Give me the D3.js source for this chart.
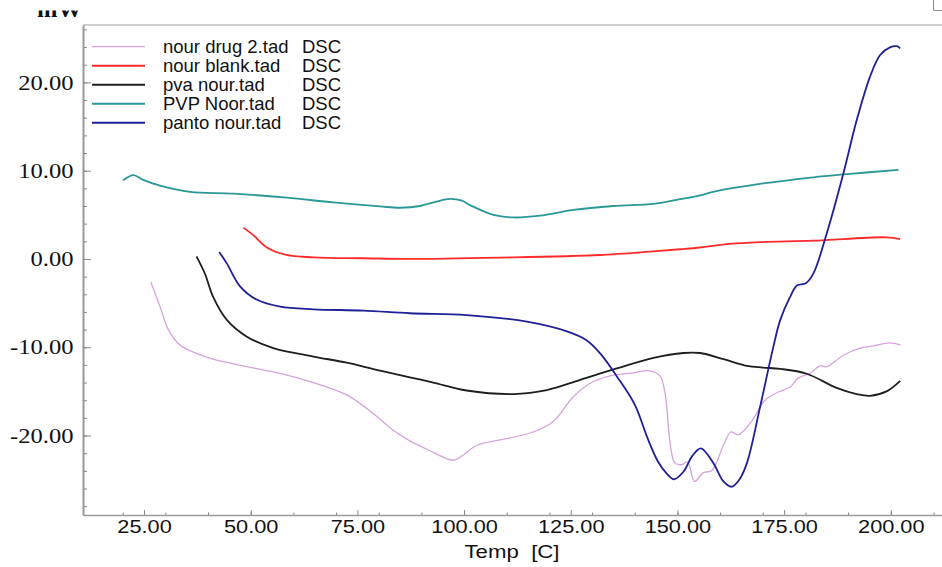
<!DOCTYPE html>
<html>
<head>
<meta charset="utf-8">
<script src="https://cdn.jsdelivr.net/npm/d3@7"></script>
<style>
  html, body { margin: 0; padding: 0; background: #fff; }
  svg { display: block; }
</style>
</head>
<body>
<svg id="chart" width="942" height="567"></svg>
<script>
// DSC thermograms: heat flow (mW) against temperature (C)
const seriesNames = ["nour drug 2.tad", "nour blank.tad", "pva nour.tad", "PVP Noor.tad", "panto nour.tad"];
const seriesKind = ["DSC", "DSC", "DSC", "DSC", "DSC"];
const seriesColors = ["#d6a2dc", "#ff2b2b", "#1e1e1e", "#2a9895", "#1f1f96"];

const drugTemp = [26.6, 28.75, 30.7, 33.4, 37.3, 41.2, 49.1, 56.9, 64.7, 72.5, 78.7, 83.4, 87.3, 91.3, 97.5, 99.8, 103, 108.4, 116.2, 120.9, 125.6, 129.5, 134.2, 139.6, 143.2, 145.9, 147.1, 148.3, 149.4, 151.0, 152.4, 154.0, 156.1, 158.0, 160.8, 162.5, 164.3, 167.5, 170.5, 173.5, 176.4, 178.3, 181.1, 183.4, 185, 188.9, 192.8, 195.9, 199.8, 202.3];
const drugFlow = [-2.6, -5.4, -8.0, -9.75, -10.7, -11.35, -12.2, -12.95, -14.0, -15.4, -17.5, -19.4, -20.6, -21.55, -22.8, -22.2, -21.1, -20.5, -19.6, -18.4, -15.6, -14.1, -13.25, -12.9, -12.65, -13.25, -15.2, -20.9, -23.1, -23.3, -23.0, -25.2, -24.2, -24.0, -21.1, -19.6, -19.9, -18.3, -16.0, -15.1, -14.5, -13.5, -12.95, -12.1, -12.2, -10.9, -10.1, -9.85, -9.5, -9.75];

const blankTemp = [48.3, 50.6, 53.8, 58.4, 64.7, 76.4, 87.3, 108.4, 131.9, 143.6, 150.6, 155.3, 162.3, 169.4, 181.9, 199.1, 202.2];
const blankFlow = [3.55, 2.7, 1.3, 0.45, 0.19, 0.08, 0.0, 0.15, 0.45, 0.83, 1.1, 1.3, 1.7, 1.9, 2.07, 2.45, 2.25];

const pvaTemp = [37.3, 39.3, 41.2, 44.4, 49.1, 55.3, 64.7, 72.5, 80.3, 87.3, 92.8, 100.6, 111.6, 119.4, 127.2, 135.8, 144.4, 151.4, 155.3, 160.8, 166.3, 170, 174.1, 180.3, 187.3, 192, 195.1, 199, 202.2];
const pvaFlow = [0.3, -1.7, -4.3, -6.9, -8.8, -10.1, -11.05, -11.75, -12.65, -13.4, -14.0, -14.9, -15.3, -14.85, -13.7, -12.4, -11.2, -10.65, -10.65, -11.35, -12.1, -12.3, -12.45, -13.0, -14.6, -15.3, -15.5, -15.0, -13.8];

const pvpTemp = [20.1, 22.5, 24.8, 28.75, 35.8, 45.9, 58.4, 69.4, 80.3, 85, 89.7, 93.5, 96.7, 99.5, 101.4, 106.9, 111.6, 117.8, 125.6, 135, 144.4, 149.8, 155.3, 158.4, 170.1, 181.9, 189.7, 201.8];
const pvpFlow = [8.9, 9.5, 8.95, 8.3, 7.6, 7.4, 6.95, 6.4, 5.95, 5.8, 6.0, 6.5, 6.8, 6.6, 6.1, 5.0, 4.7, 4.9, 5.55, 6.0, 6.25, 6.7, 7.2, 7.6, 8.55, 9.25, 9.6, 10.1];

const pantoTemp = [42.6, 44.4, 47.5, 51.4, 56.9, 64.7, 76.4, 87.3, 100.6, 114.7, 124.1, 128.7, 131.9, 135.8, 140, 143, 145.5, 147.5, 149.2, 151.4, 153.5, 155.5, 158.4, 160.8, 162.7, 164.5, 166.3, 169.4, 172.5, 174.1, 176.4, 178, 180.1, 181.9, 185, 188.9, 192, 195.1, 197.5, 199.8, 201.4, 202.2];
const pantoFlow = [0.8, -0.5, -3.1, -4.6, -5.4, -5.7, -5.85, -6.15, -6.35, -7.1, -8.2, -9.2, -10.7, -13.3, -16.5, -20.3, -23.0, -24.3, -24.95, -24.1, -22.3, -21.45, -23.1, -25.2, -25.8, -25.0, -23.1, -16.7, -9.9, -6.9, -4.3, -3.0, -2.75, -1.6, 2.9, 9.7, 15.7, 20.6, 23.1, 23.97, 24.1, 23.86];

const yMajorTicks = [-20, -10, 0, 10, 20];
const yMinorTicks = d3.range(-28, 27, 2);
const xMajorTicks = [25, 50, 75, 100, 125, 150, 175, 200];
const xMinorTicks = d3.range(20, 211, 10);

const series = [
  { temp: drugTemp, flow: drugFlow, width: 1.3 },
  { temp: blankTemp, flow: blankFlow, width: 1.8 },
  { temp: pvaTemp, flow: pvaFlow, width: 1.8 },
  { temp: pvpTemp, flow: pvpFlow, width: 1.8 },
  { temp: pantoTemp, flow: pantoFlow, width: 1.8 }
];

const svg = d3.select("#chart");
const serif = "'Liberation Serif', 'Times New Roman', serif";
const sans = "'Liberation Sans', Arial, sans-serif";
const stretch = 1.17;
// two-decimal labels with a plain hyphen for negatives
const fmt = v => d3.format(".2f")(v).replace("\u2212", "-");

const x = d3.scaleLinear().domain([10.7, 212]).range([83, 942]);
const y = d3.scaleLinear().domain([-29, 26.5]).range([515, 25]);

// frame line along the top of the plot
svg.append("line")
  .attr("x1", 83).attr("x2", 942).attr("y1", 25).attr("y2", 25)
  .attr("stroke", "#cfcfcf").attr("stroke-width", 2);

// small corner mark at the top right
svg.append("path")
  .attr("d", "M933.5,0 V10.5 H942")
  .attr("fill", "none").attr("stroke", "#8c8c8c").attr("stroke-width", 1);

// y axis: minor ticks every 2, labelled majors every 10
const yMinor = svg.append("g").attr("transform", "translate(83,0)")
  .call(d3.axisLeft(y).tickValues(yMinorTicks).tickSizeInner(-4).tickSizeOuter(0).tickFormat(""));
const yMajor = svg.append("g").attr("transform", "translate(83,0)")
  .call(d3.axisLeft(y).tickValues(yMajorTicks).tickSizeInner(-8).tickSizeOuter(0).tickPadding(9.5)
    .tickFormat(fmt));
yMajor.select(".domain").remove();
yMinor.select(".domain").attr("stroke", "#9a9a9a").attr("stroke-width", 2);
yMajor.selectAll("text")
  .attr("font-family", serif).attr("font-size", 21).attr("fill", "#111")
  .attr("x", -9.5 / stretch)
  .attr("transform", `scale(${stretch},1)`);

// x axis: minor ticks every 10, labelled majors every 25
const xMinor = svg.append("g").attr("transform", "translate(0,515)")
  .call(d3.axisBottom(x).tickValues(xMinorTicks).tickSizeInner(-2.5).tickSizeOuter(0).tickFormat(""));
const xMajor = svg.append("g").attr("transform", "translate(0,515)")
  .call(d3.axisBottom(x).tickValues(xMajorTicks).tickSizeInner(-5).tickSizeOuter(0).tickPadding(5)
    .tickFormat(fmt));
xMajor.select(".domain").remove();
xMinor.select(".domain").attr("stroke", "#9a9a9a").attr("stroke-width", 1.6);
svg.selectAll("g.tick line").attr("stroke", "#8a8a8a");
xMajor.selectAll("text")
  .attr("font-family", sans).attr("font-size", 18.6).attr("fill", "#111")
  .attr("transform", `scale(${stretch},1)`);

// axis titles
svg.append("text")
  .attr("x", 512 / stretch).attr("y", 558)
  .attr("text-anchor", "middle")
  .attr("font-family", sans).attr("font-size", 19).attr("fill", "#111")
  .attr("transform", `scale(${stretch},1)`)
  .style("white-space", "pre")
  .text("Temp  [C]");

svg.append("clipPath").attr("id", "unitClip")
  .append("rect").attr("x", 0).attr("y", 10.5).attr("width", 120).attr("height", 20);
svg.append("text")
  .attr("clip-path", "url(#unitClip)")
  .attr("x", 37 / stretch).attr("y", 17)
  .attr("transform", `scale(${stretch},1)`)
  .attr("font-family", serif).attr("font-size", 21).attr("font-weight", "bold").attr("fill", "#111")
  .text("mW");

// curves
const line = d3.line().curve(d3.curveCatmullRom.alpha(0.5));
series.forEach((s, i) => {
  const pts = s.temp.map((t, j) => [x(t), y(s.flow[j])]);
  svg.append("path")
    .attr("d", line(pts))
    .attr("fill", "none")
    .attr("stroke", seriesColors[i])
    .attr("stroke-width", s.width)
    .attr("stroke-linejoin", "round");
});

// legend
const legend = svg.append("g");
seriesNames.forEach((name, i) => {
  const ly = 46.7 + i * 19;
  legend.append("line")
    .attr("x1", 92).attr("x2", 145).attr("y1", ly).attr("y2", ly)
    .attr("stroke", seriesColors[i]).attr("stroke-width", i === 0 ? 1.3 : 2);
  legend.append("text")
    .attr("x", 163).attr("y", ly).attr("dy", "0.36em")
    .attr("font-family", sans).attr("font-size", 18.5).attr("fill", "#111")
    .text(name);
  legend.append("text")
    .attr("x", 302).attr("y", ly).attr("dy", "0.36em")
    .attr("font-family", sans).attr("font-size", 18.5).attr("fill", "#111")
    .text(seriesKind[i]);
});
</script>
</body>
</html>
